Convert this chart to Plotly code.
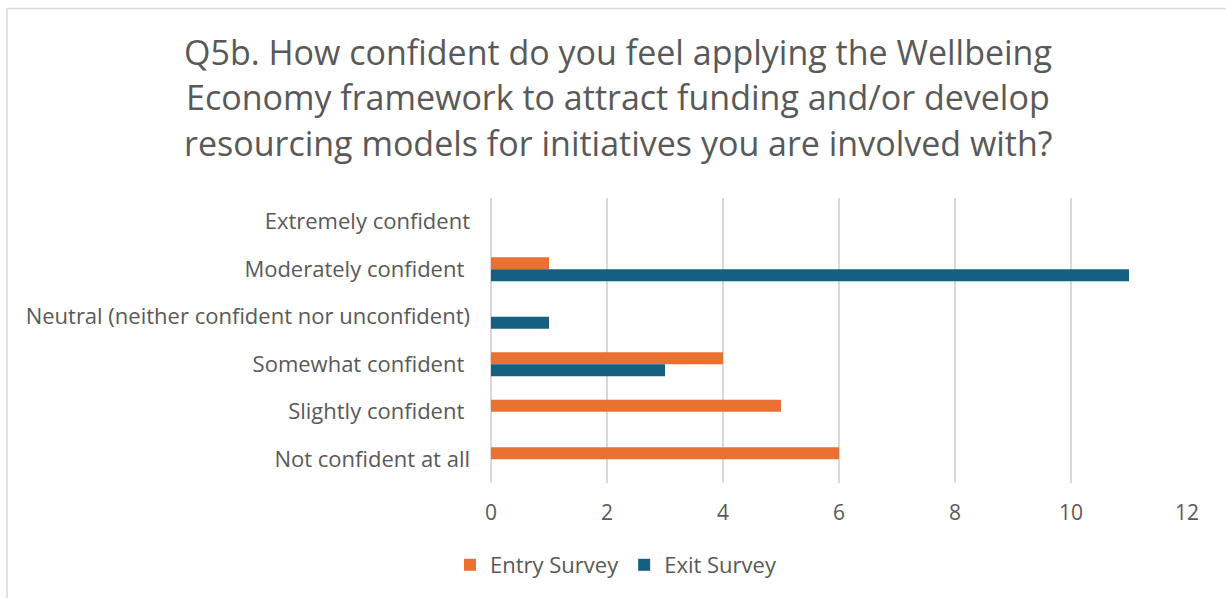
import plotly.graph_objects as go

# Response categories, listed top to bottom
categories = [
    "Extremely confident",
    "Moderately confident\u00a0",
    "Neutral (neither confident nor unconfident)",
    "Somewhat confident\u00a0",
    "Slightly confident\u00a0",
    "Not confident at all",
]
entry_survey = [0, 1, 0, 4, 5, 6]
exit_survey = [0, 11, 1, 3, 0, 0]

x_ticks = [0, 2, 4, 6, 8, 10, 12]

title_lines = [
    "Q5b. How confident do you feel applying the Wellbeing",
    "Economy framework to attract funding and/or develop",
    "resourcing models for initiatives you are involved with?",
]

ORANGE = "#E97132"
BLUE = "#156082"
TEXT = "#595959"
GRID = "#D9D9D9"
FONT = "Open Sans, Arial, sans-serif"

W, H = 1226, 598
L, R, T, B = 491, 39, 198, 115
PW, PH = W - L - R, H - T - B


def px_x(px):
    return (px - L) / PW


def px_y(py):
    return (H - B - py) / PH


fig = go.Figure()
fig.add_trace(go.Bar(
    name="Entry Survey", y=categories, x=entry_survey, orientation="h",
    marker=dict(color=ORANGE, line=dict(width=0)),
))
fig.add_trace(go.Bar(
    name="Exit Survey", y=categories, x=exit_survey, orientation="h",
    marker=dict(color=BLUE, line=dict(width=0)),
))

annotations = []
for line, cy in zip(title_lines, [52, 97, 143]):
    annotations.append(dict(
        text=line, xref="paper", yref="paper", x=px_x(618), y=px_y(cy),
        xanchor="center", yanchor="middle", showarrow=False,
        font=dict(family=FONT, size=34, color=TEXT),
    ))

fig.update_layout(
    width=W, height=H,
    margin=dict(l=L, r=R, t=T, b=B, pad=0),
    paper_bgcolor="white", plot_bgcolor="white",
    font=dict(family=FONT, size=22, color=TEXT),
    barmode="group", bargap=0.495, bargroupgap=0,
    showlegend=True,
    legend=dict(
        orientation="h", x=px_x(616), y=px_y(565),
        xanchor="center", yanchor="middle",
        font=dict(family=FONT, size=22, color=TEXT),
        itemwidth=30, traceorder="normal",
    ),
    annotations=annotations,
    shapes=[dict(
        type="rect", xref="paper", yref="paper",
        x0=px_x(7), x1=px_x(1240), y0=px_y(612), y1=px_y(8.5),
        line=dict(color=GRID, width=1.5), fillcolor="rgba(0,0,0,0)",
        layer="below",
    )],
)

fig.update_xaxes(
    range=[0, 12], tickvals=x_ticks, ticktext=[str(v) for v in x_ticks],
    showgrid=True, gridcolor=GRID, gridwidth=1.5,
    zeroline=True, zerolinecolor=GRID, zerolinewidth=1.5,
    showline=False, ticks="", ticklabelstandoff=15,
    tickfont=dict(family=FONT, size=21, color=TEXT),
    fixedrange=True,
)
fig.update_yaxes(
    type="category", categoryorder="array", categoryarray=categories,
    autorange="reversed", showgrid=False, zeroline=False, showline=False,
    ticks="", ticklabelstandoff=20,
    tickfont=dict(family=FONT, size=22, color=TEXT),
    fixedrange=True,
)

fig.write_html("out.html")
